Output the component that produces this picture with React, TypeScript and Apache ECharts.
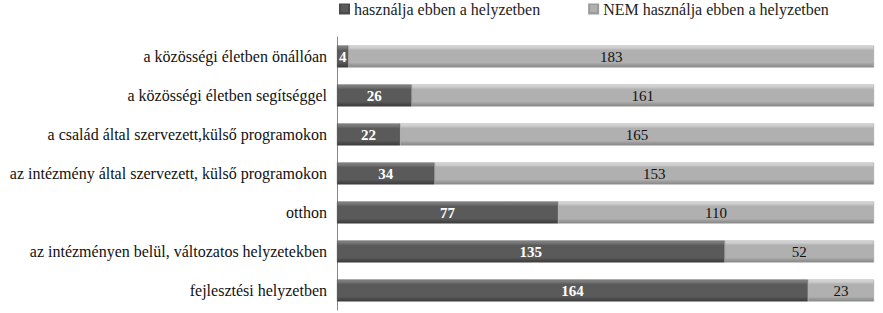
import React, { useEffect, useRef } from "react";
import * as echarts from "echarts";

const categories = [
  "a közösségi életben önállóan",
  "a közösségi életben segítséggel",
  "a család által szervezett,külső programokon",
  "az intézmény által szervezett, külső programokon",
  "otthon",
  "az intézményen belül, változatos helyzetekben",
  "fejlesztési helyzetben",
];
const usesIt = [4, 26, 22, 34, 77, 135, 164];
const doesNotUse = [183, 161, 165, 153, 110, 52, 23];
const seriesNames = ["használja ebben a helyzetben", "NEM használja ebben a helyzetben"];

const serif = "Liberation Serif, serif";

function barGradient(top: string, mid: string, bottom: string) {
  return new echarts.graphic.LinearGradient(0, 0, 0, 1, [
    { offset: 0, color: top },
    { offset: 0.22, color: mid },
    { offset: 0.78, color: mid },
    { offset: 1, color: bottom },
  ]);
}

export default function App() {
  const ref = useRef<HTMLDivElement>(null);
  useEffect(() => {
    if (!ref.current) return;
    const chart = echarts.init(ref.current, null, { renderer: "svg" });
    chart.setOption({
      animation: false,
      backgroundColor: "#ffffff",
      textStyle: { fontFamily: serif },
      color: ["#5a5a5a", "#a8a8a8"],
      legend: {
        top: 1,
        left: 339,
        padding: 0,
        itemWidth: 9,
        itemHeight: 9,
        itemGap: 48,
        icon: "rect",
        textStyle: { fontFamily: serif, fontSize: 16, color: "#222" },
        data: seriesNames,
      },
      grid: { left: 337, right: 9, top: 37, bottom: 3 },
      xAxis: {
        type: "value",
        min: 0,
        max: 187,
        show: false,
      },
      yAxis: {
        type: "category",
        data: categories,
        inverse: true,
        axisLine: { show: true, lineStyle: { color: "#888", width: 1 } },
        axisTick: { show: false },
        axisLabel: {
          fontFamily: serif,
          fontSize: 16,
          color: "#111",
          margin: 10,
        },
      },
      series: [
        {
          name: seriesNames[0],
          type: "bar",
          stack: "total",
          barWidth: 22,
          data: usesIt,
          itemStyle: {
            color: barGradient("#8c8c8c", "#5a5a5a", "#3a3a3a"),
            borderColor: "#4a4a4a",
            borderWidth: 0.5,
          },
          label: {
            show: true,
            position: "inside",
            fontFamily: serif,
            fontSize: 15,
            fontWeight: "bold",
            color: "#ffffff",
          },
        },
        {
          name: seriesNames[1],
          type: "bar",
          stack: "total",
          barWidth: 22,
          data: doesNotUse,
          itemStyle: {
            color: barGradient("#e2e2e2", "#b0b0b0", "#858585"),
            borderColor: "#9a9a9a",
            borderWidth: 0.5,
          },
          label: {
            show: true,
            position: "inside",
            fontFamily: serif,
            fontSize: 15,
            color: "#111",
          },
        },
      ],
    });
    return () => chart.dispose();
  }, []);
  return (
    <div
      ref={ref}
      style={{ width: 883, height: 313, position: "absolute", left: 0, top: 0 }}
    />
  );
}
